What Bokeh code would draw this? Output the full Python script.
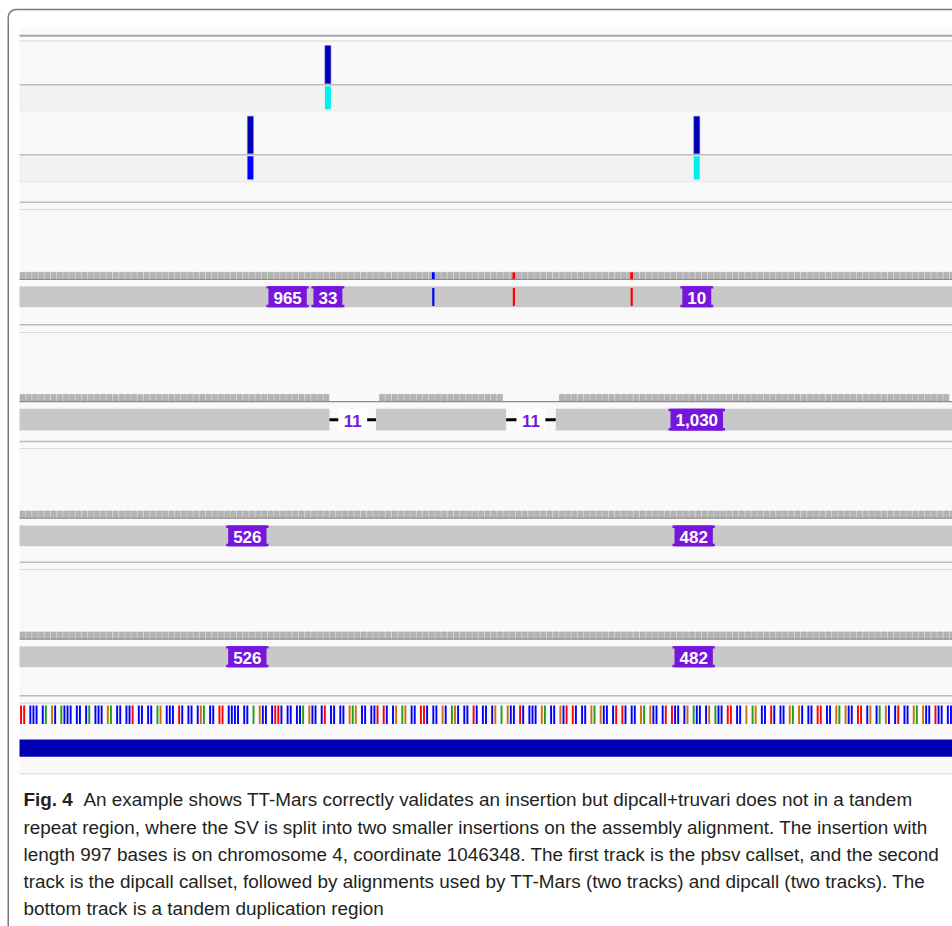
import numpy as np
from bokeh.plotting import figure
from bokeh.models import Range1d
from bokeh.embed import file_html
from bokeh.resources import INLINE
from bokeh.core.properties import value

# ======================= DATA =======================
CHROM = "chr4"
VIEW_START = 1046249          # first base shown in the IGV window

# reference sequence in the window (tandem repeat), groups as rendered by IGV
SEQ_GROUPS = (
    "TT CCC CA GC ACCC CC CA CCC GA CC CCT CC CC AG CCC TC CC CGA CC TT CCCC CC "
    "A GCC CTTC CC CCA GCC CT CC CC GAG CC CCT TC CG AG CC TTC CC GC AGC CC TC CC CG "
    "A GCC TC CCC GA CC GCT TC CC GA GCC CT TC CC GA GCC CT TCC CG ACC CG ACC TT CC G "
    "AG CC TC CC GA GC CC TT CC GA GCC TT CG CA GC CT CC GA GCC TCC CC"
).split()

# track 1: pbsv callset
PBSV_POS = [1046348]
PBSV_GT = ["HOM_VAR"]
# track 2: dipcall callset
DIPCALL_POS = [1046323, 1046467]
DIPCALL_GT = ["HET", "HOM_VAR"]

# track 3: TT-Mars alignment, haplotype 1
TT1_READ = [(1045800, 1047300)]
TT1_INS_POS = [1046335, 1046348, 1046467]
TT1_INS_LEN = ["965", "33", "10"]
TT1_MM_POS = [1046382, 1046408, 1046446]
TT1_MM_BASE = ["C", "T", "T"]

# track 4: TT-Mars alignment, haplotype 2
TT2_DEL_START = [1046349, 1046406]
TT2_DEL_END = [1046364, 1046422]
TT2_DEL_LEN = ["11", "11"]
TT2_INS_POS = [1046467]
TT2_INS_LEN = ["1,030"]
TT2_SPAN = (1045800, 1047300)

# tracks 5 & 6: dipcall alignments
DC_READ = [(1045800, 1047300)]
DC_INS_POS = [1046322, 1046466]
DC_INS_LEN = ["526", "482"]

# bottom track: tandem duplication region
TD_START, TD_END = 1045900, 1047000

CAPTION_BOLD = "Fig. 4"
CAPTION_LINES = [
    "An example shows TT-Mars correctly validates an insertion but dipcall+truvari does not in a tandem",
    "repeat region, where the SV is split into two smaller insertions on the assembly alignment. The insertion with",
    "length 997 bases is on chromosome 4, coordinate 1046348. The first track is the pbsv callset, and the second",
    "track is the dipcall callset, followed by alignments used by TT-Mars (two tracks) and dipcall (two tracks). The",
    "bottom track is a tandem duplication region",
]

# ======================= STYLE / LAYOUT =======================
BASE_COLORS = {"A": "#1ea01e", "C": "#0000ff", "G": "#d17105", "T": "#ff0000"}
GT_COLORS = {"HOM_VAR": "#00f0f0", "HET": "#0000ff"}
SITE_COLOR = "#0000b2"
PURPLE = "#7616dc"
READ_GRAY = "#c8c8c8"
COV_GRAY = "#b4b4b4"
PANEL_BG = "#f9f9f9"
LOWER_BG = "#f2f2f2"
FONT = "Liberation Sans"

W, H = 952, 926
PANEL_L, PANEL_R = 19, 952

# sequence slot positions (one slot per base, one empty slot between groups)
seq_x, seq_c = [], []
slot = 0
for gi, g in enumerate(SEQ_GROUPS):
    for b in g:
        seq_x.append(VIEW_START + slot + 0.5)
        seq_c.append(BASE_COLORS[b])
        slot += 1
    slot += 1
N_SLOTS = slot - 1
VIEW_END = VIEW_START + N_SLOTS
px_per_bp = (PANEL_R - PANEL_L) / N_SLOTS
g0 = VIEW_START - PANEL_L / px_per_bp

p = figure(width=W, height=H, x_range=Range1d(0, W), y_range=Range1d(H, 0),
           output_backend="svg", toolbar_location=None, min_border=0,
           x_axis_type=None, y_axis_type=None)
p.grid.visible = False
p.outline_line_color = None
p.background_fill_color = "white"
p.border_fill_color = "white"
p.extra_x_ranges = {"g": Range1d(g0, VIEW_END)}

def clip(segments):
    return [(max(s, VIEW_START), min(e, VIEW_END)) for s, e in segments if e > VIEW_START and s < VIEW_END]

# ---- panel backgrounds ----
p.quad(left=[PANEL_L], right=[PANEL_R], top=[27], bottom=[773], fill_color=PANEL_BG, line_color=None)
p.quad(left=[PANEL_L, PANEL_L], right=[PANEL_R, PANEL_R], top=[84.5, 154.5], bottom=[110, 181],
       fill_color=LOWER_BG, line_color=None)

def hline(y, color, w=1.0):
    p.segment(x0=[PANEL_L], x1=[PANEL_R], y0=[y], y1=[y], line_color=color, line_width=w)

hline(35.2, "#a8a8a8", 2)
hline(40.5, "#d4d4d4", 1)
hline(84.2, "#bdbdbd", 1.5)
hline(110.2, "#ebebeb", 1)
hline(154.2, "#bdbdbd", 1.5)
hline(181.2, "#e6e6e6", 1)
for ya, yb in [(201.7, 209), (324.3, 332), (441, 448), (561.7, 569), (695.2, 702.7)]:
    hline(ya, "#bdbdbd", 1.5)
    hline(yb, "#dadada", 1.2)
hline(773.3, "#d8d8d8", 1)

# ---- outer rounded frame ----
r = 8
th = np.linspace(np.pi, 1.5 * np.pi, 20)
bx, by = 7.75, 9.0
p.line(x=list(bx + r + r * np.cos(th)), y=list(by + r + r * np.sin(th)), line_color="#777777", line_width=1.5)
p.segment(x0=[bx, bx + r], x1=[bx, W], y0=[by + r, by], y1=[H, by], line_color="#777777", line_width=1.5)

# ---- VCF tracks ----
def vcf_track(pos, gts, site_top, site_bot, gt_top, gt_bot):
    xs = [x + 0.5 for x in pos]
    p.rect(x=xs, y=[(site_top + site_bot) / 2] * len(xs), width=6, height=site_bot - site_top,
           width_units="screen", x_range_name="g", fill_color=SITE_COLOR, line_color="#6a6ad8", line_width=0.6)
    p.rect(x=xs, y=[(gt_top + gt_bot) / 2] * len(xs), width=6, height=gt_bot - gt_top,
           width_units="screen", x_range_name="g", fill_color=[GT_COLORS[g] for g in gts], line_color=None)

vcf_track(PBSV_POS, PBSV_GT, 45, 83.3, 85.7, 108.7)
vcf_track(DIPCALL_POS, DIPCALL_GT, 115.7, 153.3, 155.7, 179)

# ---- alignment tracks ----
bins = np.arange(VIEW_START, VIEW_END, 2)

def coverage(base_y, segments):
    cov = np.array([1 if any(s <= b and b + 2 <= e for s, e in segments) else 0 for b in bins])
    keep = cov > 0
    p.vbar(x=list(bins[keep] + 1), width=1.65, top=list(base_y - 6.8 * cov[keep]), bottom=base_y,
           x_range_name="g", fill_color=COV_GRAY, line_color="#a2a2a2", line_width=0.5)
    hline(base_y + 0.4, "#8c8c8c", 1.2)

def reads(top, bot, segments):
    segs = clip(segments)
    p.quad(left=[s for s, e in segs], right=[e for s, e in segs], top=top, bottom=bot,
           x_range_name="g", fill_color=READ_GRAY, line_color=None)

def char_w(t):
    return sum(4.73 if ch == "," else 9.45 for ch in t)

def insertions(top, bot, pos, labels):
    xs = [x + 0.5 for x in pos]
    ws = [char_w(t) + 14 for t in labels]
    n = len(xs)
    p.rect(x=xs, y=[(top + bot) / 2] * n, width=[w - 4 for w in ws], height=bot - top,
           width_units="screen", x_range_name="g", fill_color=PURPLE, line_color=None)
    for yy in (top + 1.2, bot - 1.2):
        p.rect(x=xs, y=[yy] * n, width=ws, height=2.4, width_units="screen", x_range_name="g",
               fill_color=PURPLE, line_color=None)
    p.text(x=xs, y=[top + 11.5] * n, text=labels, x_range_name="g", text_align="center",
           text_baseline="middle", text_color="white", text_font=value(FONT),
           text_font_style="bold", text_font_size="17px")

# track 3
coverage(278.6, TT1_READ)
mm_cols = [BASE_COLORS[b] for b in TT1_MM_BASE]
p.vbar(x=[x + 0.5 for x in TT1_MM_POS], width=0.9, top=271.8, bottom=278.6, x_range_name="g",
       fill_color=mm_cols, line_color=None)
reads(285.7, 306.7, TT1_READ)
p.vbar(x=[x + 0.5 for x in TT1_MM_POS], width=0.7, top=287.5, bottom=305.5, x_range_name="g",
       fill_color=mm_cols, line_color=None)
insertions(285.7, 306.7, TT1_INS_POS, TT1_INS_LEN)

# track 4
segs = []
prev = TT2_SPAN[0]
for s, e in zip(TT2_DEL_START, TT2_DEL_END):
    segs.append((prev, s))
    prev = e
segs.append((prev, TT2_SPAN[1]))
coverage(400.7, clip(segs))
reads(408.3, 430, segs)
ymid = (408.3 + 430) / 2
p.segment(x0=TT2_DEL_START, x1=TT2_DEL_END, y0=[ymid] * 2, y1=[ymid] * 2, x_range_name="g",
          line_color="black", line_width=3)
dc = [(s + e) / 2 for s, e in zip(TT2_DEL_START, TT2_DEL_END)]
p.rect(x=dc, y=[ymid] * len(dc), width=[char_w(t) + 10 for t in TT2_DEL_LEN], height=21.7,
       width_units="screen", x_range_name="g", fill_color="white", line_color=None)
p.text(x=dc, y=[420.5] * len(dc), text=TT2_DEL_LEN, x_range_name="g", text_align="center",
       text_baseline="middle", text_color=PURPLE, text_font=value(FONT),
       text_font_style="bold", text_font_size="17px")
insertions(408.3, 430, TT2_INS_POS, TT2_INS_LEN)

# tracks 5 and 6 (dipcall alignments)
for base_y, rt, rb in [(517.3, 525, 545.7), (638.2, 645.7, 666.7)]:
    coverage(base_y, DC_READ)
    reads(rt, rb, DC_READ)
    insertions(rt, rb, DC_INS_POS, DC_INS_LEN)

# ---- sequence track ----
p.vbar(x=seq_x, width=0.62, top=705, bottom=723.5, x_range_name="g", fill_color=seq_c, line_color=None)

# ---- tandem duplication track ----
td = clip([(TD_START, TD_END)])
p.quad(left=[td[0][0]], right=[td[0][1]], top=[739], bottom=[756.3], x_range_name="g",
       fill_color=SITE_COLOR, line_color=None)

# ---- caption ----
CAP_FS = "18.9px"
CAP_Y = [799.2, 827.4, 854.2, 880.9, 908.2]
p.text(x=[23], y=[CAP_Y[0]], text=[CAPTION_BOLD], text_font=value(FONT), text_font_style="bold",
       text_font_size=CAP_FS, text_color="#231f20", text_baseline="middle")
p.text(x=[83] + [23] * 4, y=CAP_Y, text=CAPTION_LINES, text_font=value(FONT),
       text_font_size=CAP_FS, text_color="#231f20", text_baseline="middle")

open("out.html", "w").write(file_html(p, INLINE))
